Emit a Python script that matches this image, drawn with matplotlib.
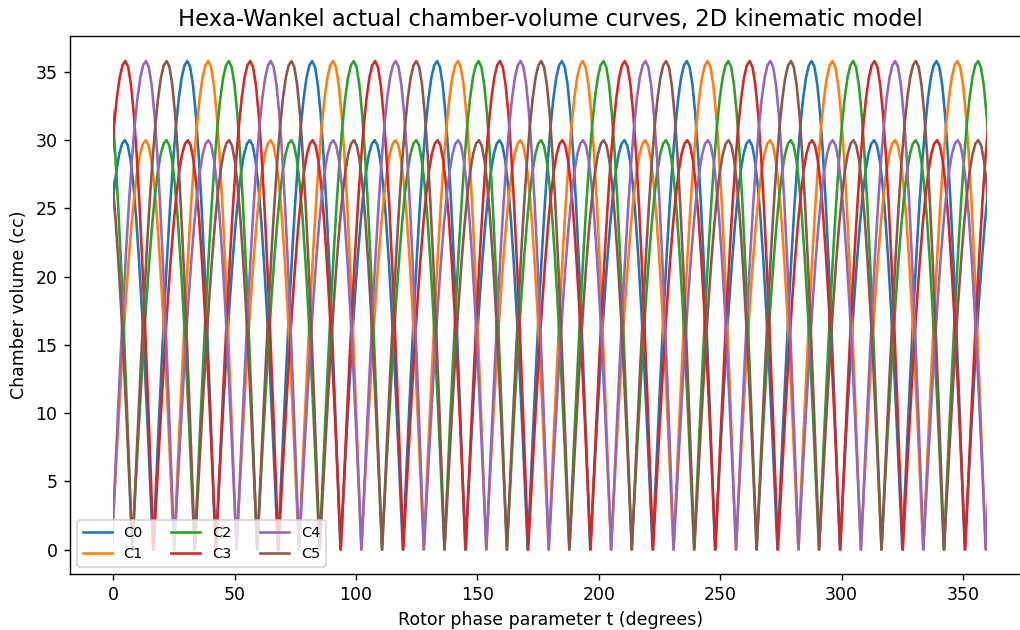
import numpy as np
import matplotlib.pyplot as plt
from matplotlib.patches import Rectangle

# one cycle of a chamber (cc)
# low lobe tops out at ~30, high lobe at ~35.8, cusps at ~0
low_rise = [0.0, 3.92, 7.76, 11.48, 15.0, 18.26, 21.21, 23.8, 25.98, 27.72, 28.98, 29.74, 30.0]
low_fall = [29.63, 28.53, 26.73, 24.27, 21.21, 17.63, 13.62, 9.27, 4.69, 0.0]
high_rise = [4.67, 9.27, 13.7, 17.9, 21.79, 25.31, 28.4, 31.0, 33.07, 34.58, 35.49, 35.8]
high_fall = [35.36, 34.05, 31.9, 28.96, 25.31, 21.04, 16.25, 11.06, 5.6, 0.0]

rise_deg = 14.1       # trough -> peak
fall_deg = 11.615     # peak -> trough
low_peak_deg = [4.8, 13.4, 21.9, 30.7, 39.2, 47.7]   # first low peak of each chamber
names = ['C0', 'C1', 'C2', 'C3', 'C4', 'C5']

lobe = rise_deg + fall_deg
period = 2 * lobe
ph_rise = np.linspace(0, rise_deg, len(low_rise))
ph_fall = rise_deg + np.linspace(0, fall_deg, len(low_fall) + 1)[1:]
cyc_ph = np.concatenate([ph_rise, ph_fall, lobe + ph_rise[1:], lobe + ph_fall])
cyc_v = np.array(low_rise + low_fall + high_rise + high_fall)

fig = plt.figure(figsize=(8.16, 5.04), dpi=125)
ax = fig.add_axes([0.0682, 0.0889, 0.9426, 0.8532])

clip = Rectangle((0, -50), 360, 200, transform=ax.transData)
for k, name in enumerate(names):
    start = low_peak_deg[k] - rise_deg
    t = np.concatenate([cyc_ph + start + m * period for m in range(-1, 9)])
    v = np.tile(cyc_v, 10)
    line, = ax.plot(t, v, label=name, lw=1.5)
    line.set_clip_path(clip)

ax.set_xlim(-18, 378)
ax.set_ylim(-1.79, 37.6)
ax.set_xticks(np.arange(0, 351, 50))
ax.set_yticks(np.arange(0, 36, 5))
ax.set_title('Hexa-Wankel actual chamber-volume curves, 2D kinematic model', fontsize=13)
ax.set_xlabel('Rotor phase parameter t (degrees)')
ax.set_ylabel('Chamber volume (cc)')
ax.legend(loc='lower left', ncol=3, fontsize='small')

fig.savefig('out.png', dpi=125)
